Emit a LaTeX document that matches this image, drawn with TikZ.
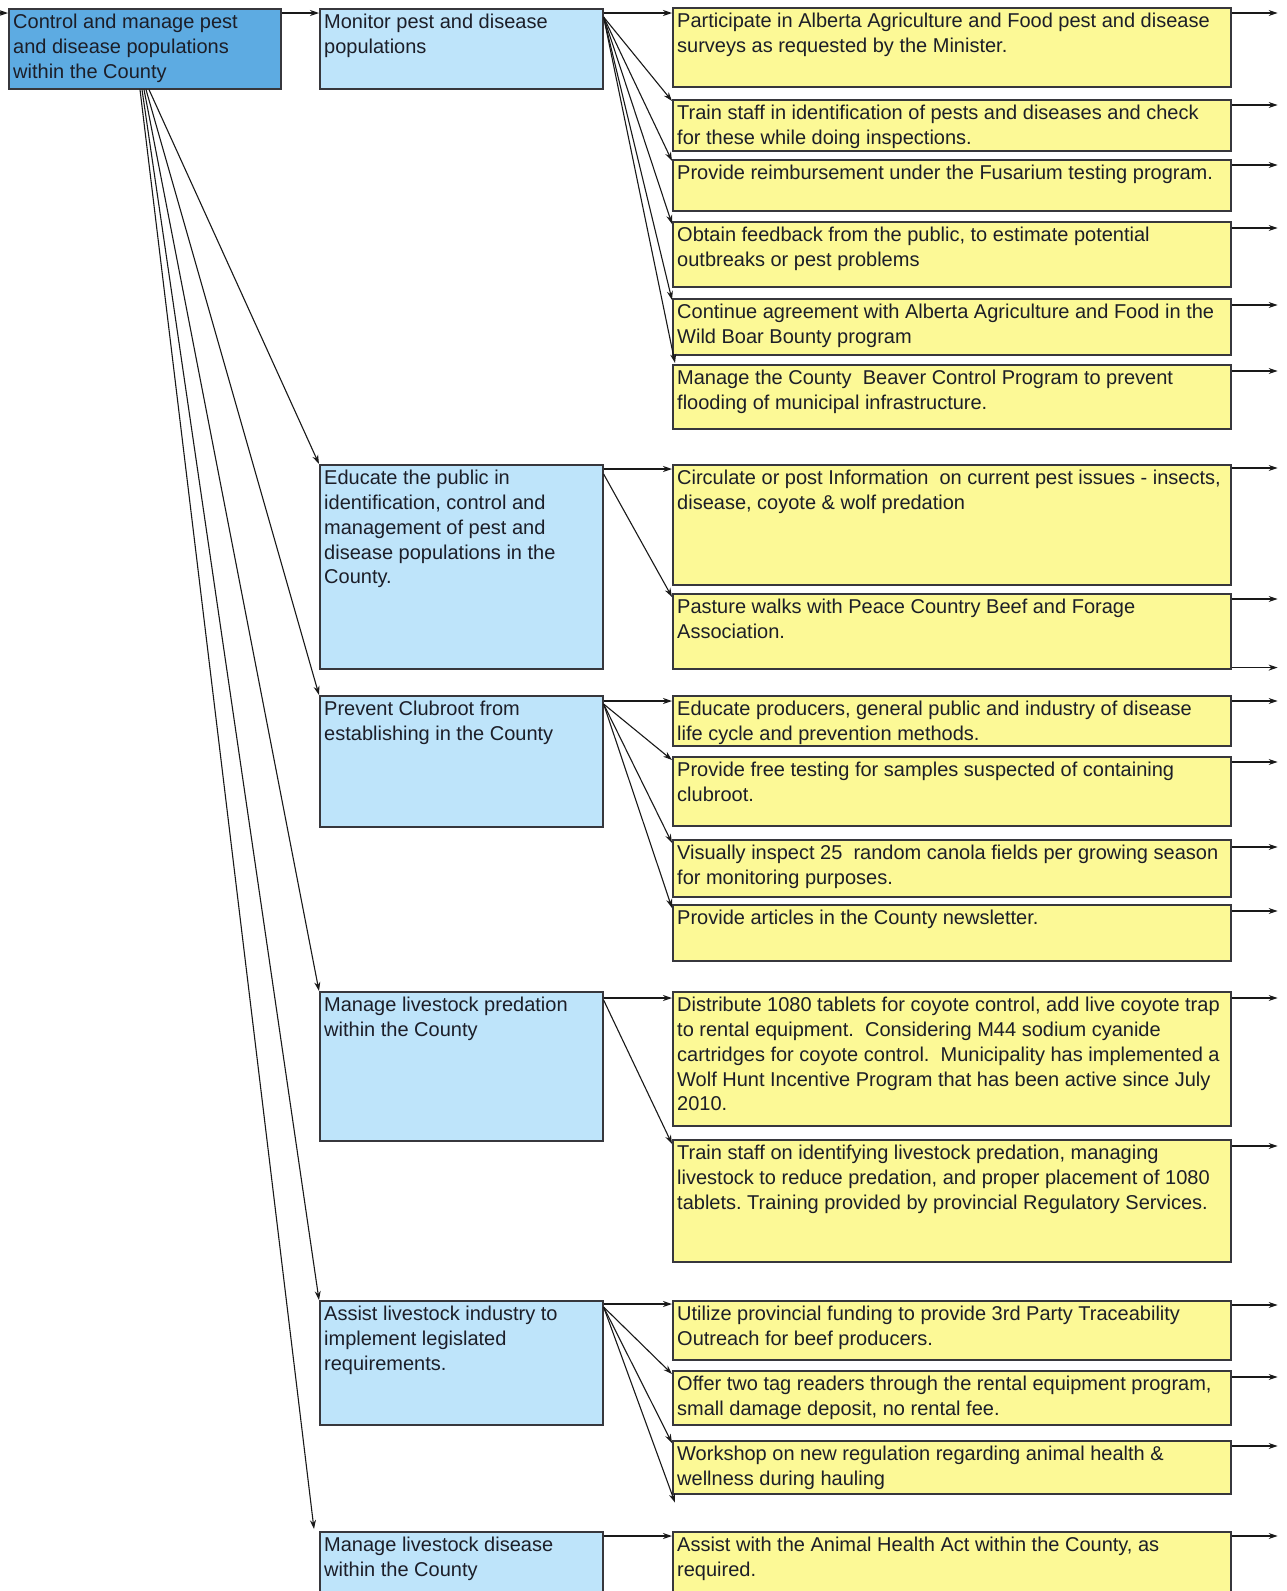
\documentclass[tikz,border=0pt]{standalone}
\usepackage{fontspec}
\setmainfont{Liberation Sans}
\usetikzlibrary{arrows.meta}
\frenchspacing
\definecolor{rootblue}{RGB}{93,171,226}
\definecolor{lightblue}{RGB}{190,228,250}
\definecolor{yel}{RGB}{252,249,150}
\definecolor{edge}{RGB}{55,55,60}
\definecolor{ink}{RGB}{28,30,40}
\tikzset{
  boxbase/.style={draw=edge, line width=1.6pt, rectangle, inner sep=0pt},
  rootbox/.style={boxbase, fill=rootblue},
  midbox/.style={boxbase, fill=lightblue},
  actbox/.style={boxbase, fill=yel},
  txt/.style={inner sep=0pt, align=left, text=ink, font=\fontsize{20}{24.8}\selectfont\frenchspacing},
  arr/.style={-{Stealth[length=9pt,width=6pt]}, line width=1.1pt, draw=black!90},
}
\newcommand{\drawbox}[7]{%
  \node[#2, minimum width={#5-#3}, minimum height={#6-#4}, anchor=north west] (#1) at (#3,#4) {};
  \node[txt, anchor=north west] (#1t) at ([shift={(5,6)}]#1.north west) {#7};}
\begin{document}
\begin{tikzpicture}[x=1pt,y=-1pt]
\useasboundingbox (0,0) rectangle (1286,1591);
\fill[white] (0,0) rectangle (1286,1591);

% root
\drawbox{root}{rootbox}{8}{8}{280}{88}{Control and manage pest\\and disease populations\\within the County}

% middle column
\drawbox{mon}{midbox}{319}{8}{602}{88}{Monitor pest and disease\\populations}
\drawbox{edu}{midbox}{319}{464}{602}{668}{Educate the public in\\identification, control and\\management of pest and\\disease populations in the\\County.}
\drawbox{clb}{midbox}{319}{695}{602}{826}{Prevent Clubroot from\\establishing in the County}
\drawbox{prd}{midbox}{319}{991}{602}{1140}{Manage livestock predation\\within the County}
\drawbox{ast}{midbox}{319}{1300}{602}{1424}{Assist livestock industry to\\implement legislated\\requirements.}
\drawbox{dis}{midbox}{319}{1531}{602}{1605}{Manage livestock disease\\within the County}

% right column
\drawbox{a1}{actbox}{672}{7}{1230}{86}{Participate in Alberta Agriculture and Food pest and disease\\surveys as requested by the Minister.}
\drawbox{a2}{actbox}{672}{99}{1230}{150}{Train staff in identification of pests and diseases and check\\for these while doing inspections.}
\drawbox{a3}{actbox}{672}{159}{1230}{210}{Provide reimbursement under the Fusarium testing program.}
\drawbox{a4}{actbox}{672}{221}{1230}{286}{Obtain feedback from the public, to estimate potential\\outbreaks or pest problems}
\drawbox{a5}{actbox}{672}{298}{1230}{354}{Continue agreement with Alberta Agriculture and Food in the\\Wild Boar Bounty program}
\drawbox{a6}{actbox}{672}{364}{1230}{428}{Manage the County~ Beaver Control Program to prevent\\flooding of municipal infrastructure.}
\drawbox{b1}{actbox}{672}{464}{1230}{584}{Circulate or post Information~ on current pest issues - insects,\\disease, coyote \& wolf predation}
\drawbox{b2}{actbox}{672}{593}{1230}{668}{Pasture walks with Peace Country Beef and Forage\\Association.}
\drawbox{c1}{actbox}{672}{695}{1230}{745}{Educate producers, general public and industry of disease\\life cycle and prevention methods.}
\drawbox{c2}{actbox}{672}{756}{1230}{825}{Provide free testing for samples suspected of containing\\clubroot.}
\drawbox{c3}{actbox}{672}{839}{1230}{896}{Visually inspect 25~ random canola fields per growing season\\for monitoring purposes.}
\drawbox{c4}{actbox}{672}{904}{1230}{960}{Provide articles in the County newsletter.}
\drawbox{d1}{actbox}{672}{991}{1230}{1125}{Distribute 1080 tablets for coyote control, add live coyote trap\\to rental equipment.~ Considering M44 sodium cyanide\\cartridges for coyote control.~ Municipality has implemented a\\Wolf Hunt Incentive Program that has been active since July\\2010.}
\drawbox{d2}{actbox}{672}{1139}{1230}{1261}{Train staff on identifying livestock predation, managing\\livestock to reduce predation, and proper placement of 1080\\tablets. Training provided by provincial Regulatory Services.}
\drawbox{e1}{actbox}{672}{1300}{1230}{1359}{Utilize provincial funding to provide 3rd Party Traceability\\Outreach for beef producers.}
\drawbox{e2}{actbox}{672}{1370}{1230}{1424}{Offer two tag readers through the rental equipment program,\\small damage deposit, no rental fee.}
\drawbox{e3}{actbox}{672}{1440}{1230}{1493}{Workshop on new regulation regarding animal health \&\\wellness during hauling}
\drawbox{f1}{actbox}{672}{1531}{1230}{1605}{Assist with the Animal Health Act within the County, as\\required.}

% incoming arrow at root
\coordinate (inl) at (0,13);
\draw[arr] (inl) -- ([yshift=-5pt]root.north west);
\draw[arr] ([yshift=-5pt]root.north east) -- ([yshift=-5pt]mon.north west);

% root fan
\draw[arr] ([xshift=141pt]root.south west) -- (edu.north west);
\draw[arr] ([xshift=138pt]root.south west) -- (clb.north west);
\draw[arr] ([xshift=136pt]root.south west) -- (prd.north west);
\draw[arr] ([xshift=134pt]root.south west) -- (ast.north west);
\draw[arr] ([xshift=132pt]root.south west) -- ([xshift=-5pt,yshift=2pt]dis.north west);

% monitor fan
\draw[arr] ([yshift=-5pt]mon.north east) -- ([yshift=-6pt]a1.north west);
\draw[arr] ([yshift=-9pt]mon.north east) -- ([yshift=-2pt]a2.north west);
\draw[arr] ([yshift=-9pt]mon.north east) -- ([yshift=-2pt]a3.north west);
\draw[arr] ([yshift=-9pt]mon.north east) -- ([yshift=-3pt]a4.north west);
\draw[arr] ([yshift=-9pt]mon.north east) -- ([yshift=-2pt]a5.north west);
\draw[arr] ([yshift=-9pt]mon.north east) -- ([xshift=3pt,yshift=1pt]a6.north west);

% educate
\draw[arr] ([yshift=-5pt]edu.north east) -- ([yshift=-5pt]b1.north west);
\draw[arr] ([yshift=-10pt]edu.north east) -- ([yshift=-4pt]b2.north west);

% clubroot
\draw[arr] ([yshift=-6pt]clb.north east) -- ([yshift=-6pt]c1.north west);
\draw[arr] ([yshift=-9pt]clb.north east) -- ([yshift=-4pt]c2.north west);
\draw[arr] ([yshift=-9pt]clb.north east) -- ([yshift=-4pt]c3.north west);
\draw[arr] ([yshift=-9pt]clb.north east) -- ([yshift=-4pt]c4.north west);

% predation
\draw[arr] ([yshift=-7pt]prd.north east) -- ([yshift=-7pt]d1.north west);
\draw[arr] ([yshift=-9pt]prd.north east) -- ([yshift=-5pt]d2.north west);

% assist
\draw[arr] ([yshift=-4pt]ast.north east) -- ([yshift=-4pt]e1.north west);
\draw[arr] ([yshift=-7pt]ast.north east) -- ([yshift=-4pt]e2.north west);
\draw[arr] ([yshift=-7pt]ast.north east) -- ([yshift=-3pt]e3.north west);
\draw[arr] ([yshift=-7pt]ast.north east) -- ([xshift=3pt,yshift=-8pt]e3.south west);

% disease
\draw[arr] ([yshift=-5pt]dis.north east) -- ([yshift=-5pt]f1.north west);

% outgoing arrows on the right
\foreach \n/\d in {a1/6,a2/6,a3/6,a4/7,a5/7,a6/7,b1/4,b2/6,c1/6,c2/6,c3/8,c4/7,d1/7,d2/7,e1/5,e2/7,e3/6,f1/5}{
  \draw[arr] ([yshift=-\d pt]\n.north east) -- ++(46,0) coordinate (out\n);
}
\draw[arr] ([yshift=2pt]b2.south east) -- ++(46,0) coordinate (outb2b);
\end{tikzpicture}
\end{document}
